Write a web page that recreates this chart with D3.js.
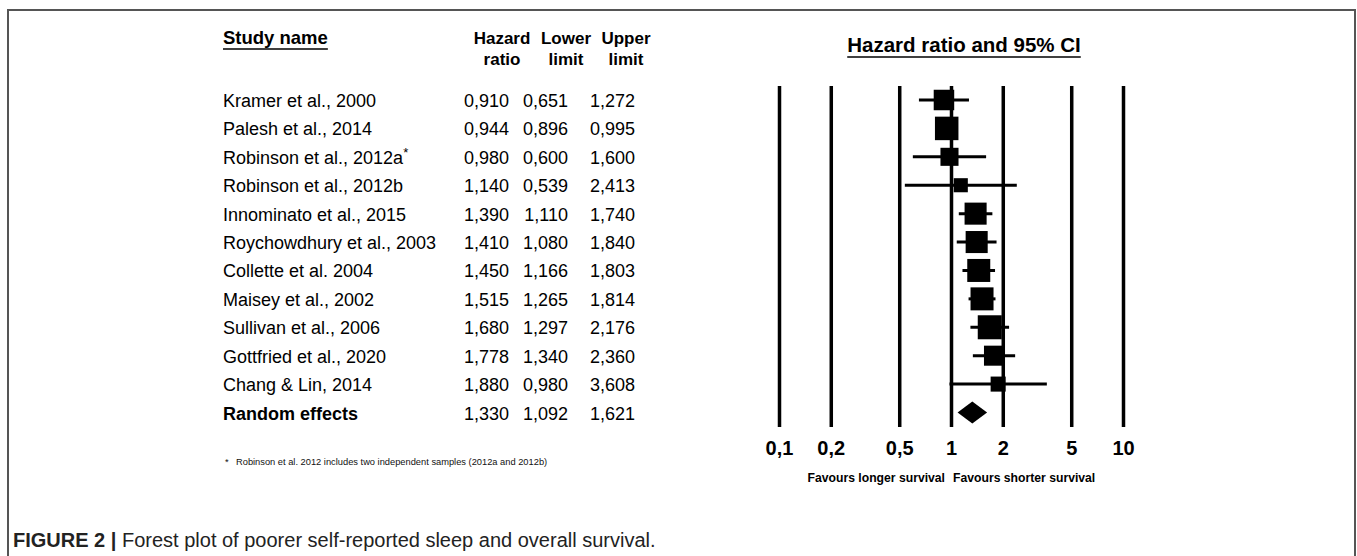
<!DOCTYPE html>
<html>
<head>
<meta charset="utf-8">
<script src="https://cdn.jsdelivr.net/npm/d3@7"></script>
<style>
  body { margin: 0; background: #fff; }
  svg { display: block; font-family: "Liberation Sans", Arial, sans-serif; }
</style>
</head>
<body>
<script>
// study rows
var studies = ["Kramer et al., 2000", "Palesh et al., 2014", "Robinson et al., 2012a", "Robinson et al., 2012b",
  "Innominato et al., 2015", "Roychowdhury et al., 2003", "Collette et al. 2004", "Maisey et al., 2002",
  "Sullivan et al., 2006", "Gottfried et al., 2020", "Chang & Lin, 2014"];
var hazard = [0.910, 0.944, 0.980, 1.140, 1.390, 1.410, 1.450, 1.515, 1.680, 1.778, 1.880];
var lower = [0.651, 0.896, 0.600, 0.539, 1.110, 1.080, 1.166, 1.265, 1.297, 1.340, 0.980];
var upper = [1.272, 0.995, 1.600, 2.413, 1.740, 1.840, 1.803, 1.814, 2.176, 2.360, 3.608];
// relative weights
var weights = [8.9, 11.7, 6.9, 4.2, 10.3, 10.3, 11.2, 11.2, 12.2, 8.5, 4.8];

// pooled estimate
var pooledLabel = "Random effects";
var pooledHR = 1.330, pooledLower = 1.092, pooledUpper = 1.621;

var tickValues = [0.1, 0.2, 0.5, 1, 2, 5, 10];
var tickLabels = ["0,1", "0,2", "0,5", "1", "2", "5", "10"];

var colHeaders = [["Hazard", "ratio"], ["Lower", "limit"], ["Upper", "limit"]];

var width = 1357, height = 556;

var fmt = d3.formatLocale({decimal: ",", thousands: ".", grouping: [3], currency: ["", ""]}).format(".3f");

var svg = d3.select("body").append("svg")
    .attr("width", width)
    .attr("height", height);

// figure frame (bottom runs off the page)
svg.append("rect")
    .attr("x", 8).attr("y", 10)
    .attr("width", 1347).attr("height", 600)
    .attr("fill", "none")
    .attr("stroke", "#555")
    .attr("stroke-width", 2);

var x = d3.scaleLog()
    .domain([0.1, 10])
    .range([779, 1123]);

var y = d3.scaleLinear()
    .domain([0, studies.length])
    .range([100, 412.5]);

var size = d3.scaleSqrt()
    .domain([0, d3.max(weights)])
    .range([0, 24]);

var nameX = 223;
var colX = [509, 568, 635];
var headX = [502, 566, 626];

function underline(sel, dy) {
  var b = sel.node().getBBox();
  svg.append("line")
      .attr("x1", b.x).attr("x2", b.x + b.width)
      .attr("y1", +sel.attr("y") + dy).attr("y2", +sel.attr("y") + dy)
      .attr("stroke", "#000")
      .attr("stroke-width", 1.6);
}

// headers
var sn = svg.append("text")
    .attr("x", nameX).attr("y", 44)
    .attr("font-size", 18.5).attr("font-weight", "bold")
    .text("Study name");
underline(sn, 5);

colHeaders.forEach(function(h, i) {
  svg.append("text")
      .attr("x", headX[i]).attr("y", 44)
      .attr("text-anchor", "middle")
      .attr("font-size", 17).attr("font-weight", "bold")
      .text(h[0]);
  svg.append("text")
      .attr("x", headX[i]).attr("y", 65)
      .attr("text-anchor", "middle")
      .attr("font-size", 17).attr("font-weight", "bold")
      .text(h[1]);
});

var pt = svg.append("text")
    .attr("x", 964).attr("y", 52)
    .attr("text-anchor", "middle")
    .attr("font-size", 20.5).attr("font-weight", "bold")
    .text("Hazard ratio and 95% CI");
underline(pt, 5);

// table rows
var rows = svg.append("g").attr("font-size", 18).attr("fill", "#000");

studies.forEach(function(s, i) {
  var t = rows.append("text")
      .attr("x", nameX).attr("y", y(i) + 7);
  t.text(s);
  if (s === "Robinson et al., 2012a") {
    t.append("tspan").attr("dy", -7).attr("font-size", 13).text("*");
  }
  [hazard[i], lower[i], upper[i]].forEach(function(v, j) {
    rows.append("text")
        .attr("x", colX[j]).attr("y", y(i) + 7)
        .attr("text-anchor", "end")
        .text(fmt(v));
  });
});

var k = studies.length;
rows.append("text")
    .attr("x", nameX).attr("y", y(k) + 7)
    .attr("font-weight", "bold")
    .text(pooledLabel);
[pooledHR, pooledLower, pooledUpper].forEach(function(v, j) {
  rows.append("text")
      .attr("x", colX[j]).attr("y", y(k) + 7)
      .attr("text-anchor", "end")
      .text(fmt(v));
});

// axis with full-height reference lines
var xAxis = d3.axisBottom(x)
    .tickValues(tickValues)
    .tickFormat(function(d, i) { return tickLabels[i]; })
    .tickSize(-(427 - 86))
    .tickPadding(14);

var ax = svg.append("g")
    .attr("transform", "translate(0,427)")
    .call(xAxis);
ax.select(".domain").remove();
ax.selectAll(".tick line").attr("stroke", "#000").attr("stroke-width", 3.5);
ax.selectAll(".tick text")
    .attr("fill", "#000")
    .attr("font-size", 20)
    .attr("font-weight", "bold")
    .attr("font-family", "Liberation Sans, Arial, sans-serif");

// confidence intervals
var plot = svg.append("g");

plot.selectAll(".ci")
    .data(studies)
  .enter().append("line")
    .attr("class", "ci")
    .attr("x1", function(d, i) { return x(lower[i]); })
    .attr("x2", function(d, i) { return x(upper[i]); })
    .attr("y1", function(d, i) { return y(i); })
    .attr("y2", function(d, i) { return y(i); })
    .attr("stroke", "#000")
    .attr("stroke-width", 3);

plot.selectAll(".box")
    .data(studies)
  .enter().append("rect")
    .attr("class", "box")
    .attr("x", function(d, i) { return x(hazard[i]) - size(weights[i]) / 2; })
    .attr("y", function(d, i) { return y(i) - size(weights[i]) / 2; })
    .attr("width", function(d, i) { return size(weights[i]); })
    .attr("height", function(d, i) { return size(weights[i]); })
    .attr("fill", "#000");

// pooled diamond
var dy = y(k);
plot.append("path")
    .attr("d", "M" + x(pooledLower) + "," + dy +
      "L" + x(pooledHR) + "," + (dy - 11) +
      "L" + x(pooledUpper) + "," + dy +
      "L" + x(pooledHR) + "," + (dy + 11) + "Z")
    .attr("fill", "#000");

// favours labels
svg.append("text")
    .attr("x", x(1) - 6).attr("y", 482)
    .attr("text-anchor", "end")
    .attr("font-size", 12.2).attr("font-weight", "bold")
    .text("Favours longer survival");
svg.append("text")
    .attr("x", x(1) + 2).attr("y", 482)
    .attr("font-size", 12.2).attr("font-weight", "bold")
    .text("Favours shorter survival");

// footnote
svg.append("text")
    .attr("x", 225).attr("y", 465)
    .attr("font-size", 9.3).attr("fill", "#111")
    .text("*");
svg.append("text")
    .attr("x", 236).attr("y", 465)
    .attr("font-size", 9.3).attr("fill", "#111")
    .text("Robinson et al. 2012 includes two independent samples (2012a and 2012b)");

// caption
var cap = svg.append("text")
    .attr("x", 13).attr("y", 547)
    .attr("font-size", 20)
    .attr("fill", "#222");
cap.append("tspan").attr("font-weight", "bold").text("FIGURE 2 | ");
cap.append("tspan").text("Forest plot of poorer self-reported sleep and overall survival.");
</script>
</body>
</html>
